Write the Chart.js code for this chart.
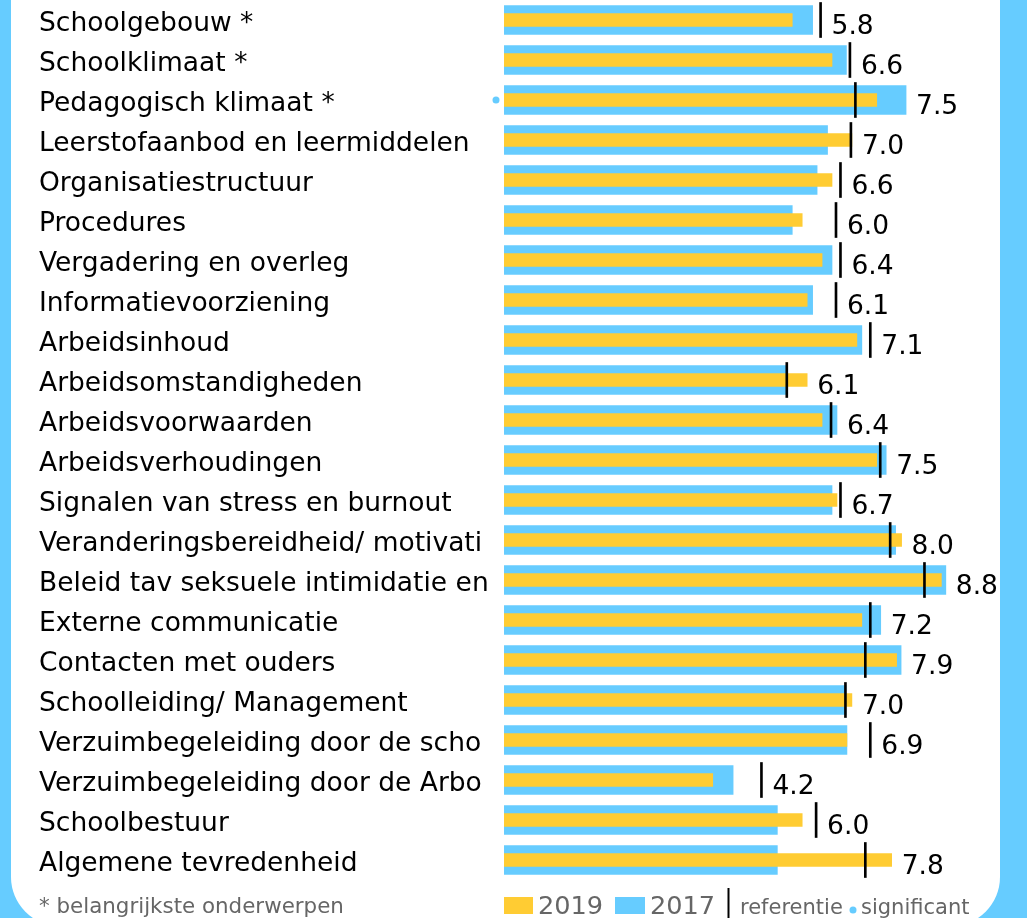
<!DOCTYPE html>
<html>
<head>
<meta charset="utf-8">
<script src="https://cdn.jsdelivr.net/npm/chart.js@4.4.0/dist/chart.umd.min.js"></script>
<style>
  html, body { margin: 0; padding: 0; background: #66ccff; overflow: hidden; }
  #panel { position: absolute; left: 11px; top: -60px; width: 989px; height: 986px; background: #fff; border-radius: 49px; }
  #wrap { position: absolute; left: 0; top: 0; width: 1027px; height: 918px; }
</style>
</head>
<body>
<div id="panel"></div>
<div id="wrap"><canvas id="chart"></canvas></div>
<script>
const categories = [
  "Schoolgebouw *",
  "Schoolklimaat *",
  "Pedagogisch klimaat *",
  "Leerstofaanbod en leermiddelen",
  "Organisatiestructuur",
  "Procedures",
  "Vergadering en overleg",
  "Informatievoorziening",
  "Arbeidsinhoud",
  "Arbeidsomstandigheden",
  "Arbeidsvoorwaarden",
  "Arbeidsverhoudingen",
  "Signalen van stress en burnout",
  "Veranderingsbereidheid/ motivati",
  "Beleid tav seksuele intimidatie en",
  "Externe communicatie",
  "Contacten met ouders",
  "Schoolleiding/ Management",
  "Verzuimbegeleiding door de scho",
  "Verzuimbegeleiding door de Arbo",
  "Schoolbestuur",
  "Algemene tevredenheid"
];

const values2019 = [5.8, 6.6, 7.5, 7.0, 6.6, 6.0, 6.4, 6.1, 7.1, 6.1, 6.4, 7.5, 6.7, 8.0, 8.8, 7.2, 7.9, 7.0, 6.9, 4.2, 6.0, 7.8];
const values2017 = [6.21, 6.89, 8.09, 6.51, 6.30, 5.80, 6.60, 6.21, 7.20, 5.67, 6.70, 7.69, 6.60, 7.88, 8.89, 7.58, 7.99, 6.88, 6.90, 4.61, 5.50, 5.50];
const reference = [6.37, 6.96, 7.07, 6.98, 6.77, 6.68, 6.77, 6.68, 7.37, 5.69, 6.58, 7.57, 6.77, 7.77, 8.46, 7.37, 7.27, 6.87, 7.37, 5.18, 6.28, 7.27];
const significant = [false, false, true, false, false, false, false, false, false, false, false, false, false, false, false, false, false, false, false, false, false, false];

const YELLOW = "#ffcc33";
const BLUE = "#66ccff";
const FONT = '"DejaVu Sans", Verdana, sans-serif';

// numbers behind the bars + significance dots
const valueLabels = {
  id: "valueLabels",
  afterDatasetsDraw(chart) {
    const { ctx, scales: { x, y } } = chart;
    ctx.save();
    ctx.font = "26.5px " + FONT;
    ctx.fillStyle = "#000";
    ctx.textBaseline = "alphabetic";
    categories.forEach((c, i) => {
      const end = Math.max(values2019[i], values2017[i], reference[i] + 0.02);
      const py = y.getPixelForValue(i);
      ctx.fillText(values2019[i].toFixed(1), x.getPixelForValue(end) + 10, py + 14);
      if (significant[i]) {
        ctx.fillStyle = BLUE;
        ctx.beginPath();
        ctx.arc(x.getPixelForValue(0) - 8, py, 3.5, 0, Math.PI * 2);
        ctx.fill();
        ctx.fillStyle = "#000";
      }
    });
    ctx.restore();
  }
};

// legend row at the bottom
const legendRow = {
  id: "legendRow",
  afterDraw(chart) {
    const { ctx, chartArea } = chart;
    const base = 914;
    const left = chartArea.left;
    ctx.save();
    ctx.textBaseline = "alphabetic";
    ctx.fillStyle = "#666";
    ctx.font = "21.4px " + FONT;
    ctx.fillText("* belangrijkste onderwerpen", 39, base - 1);

    ctx.fillStyle = YELLOW;
    ctx.fillRect(left, 897, 29, 17);
    ctx.fillStyle = "#666";
    ctx.font = "25.6px " + FONT;
    ctx.fillText("2019", left + 34, base);

    ctx.fillStyle = BLUE;
    ctx.fillRect(left + 111, 897, 30, 17);
    ctx.fillStyle = "#666";
    ctx.fillText("2017", left + 146, base);

    ctx.strokeStyle = "#000";
    ctx.lineWidth = 2;
    ctx.beginPath();
    ctx.moveTo(left + 224.5, 888);
    ctx.lineTo(left + 224.5, 918);
    ctx.stroke();

    ctx.font = "21px " + FONT;
    ctx.fillText("referentie", left + 236, base);
    ctx.fillStyle = BLUE;
    ctx.beginPath();
    ctx.arc(left + 349, 910, 3.5, 0, Math.PI * 2);
    ctx.fill();
    ctx.fillStyle = "#666";
    ctx.fillText("significant", left + 357, base);
    ctx.restore();
  }
};

new Chart(document.getElementById("chart"), {
  type: "bar",
  data: {
    labels: categories,
    datasets: [
      { label: "referentie", data: reference.map(v => [v - 0.02, v + 0.02]), backgroundColor: "#000", barThickness: 35, grouped: false, order: 0 },
      { label: "2019", data: values2019, backgroundColor: YELLOW, barThickness: 13, grouped: false, order: 1 },
      { label: "2017", data: values2017, backgroundColor: BLUE, barThickness: 29, grouped: false, order: 2 }
    ]
  },
  options: {
    indexAxis: "y",
    responsive: true,
    maintainAspectRatio: false,
    animation: false,
    layout: { padding: { left: 39, right: 26, top: 0, bottom: 38 } },
    plugins: { legend: { display: false }, tooltip: { enabled: false } },
    scales: {
      x: { display: false, min: 0, max: 10 },
      y: {
        grid: { display: false },
        border: { display: false },
        ticks: {
          crossAlign: "far",
          color: "#000",
          font: { family: FONT, size: 26.5 },
          labelOffset: 4,
          padding: 0,
          autoSkip: false
        },
        afterFit(scale) {
          scale.width = 465;
          scale.paddingTop = 0;
          scale.paddingBottom = 0;
        }
      }
    }
  },
  plugins: [valueLabels, legendRow]
});
</script>
</body>
</html>
